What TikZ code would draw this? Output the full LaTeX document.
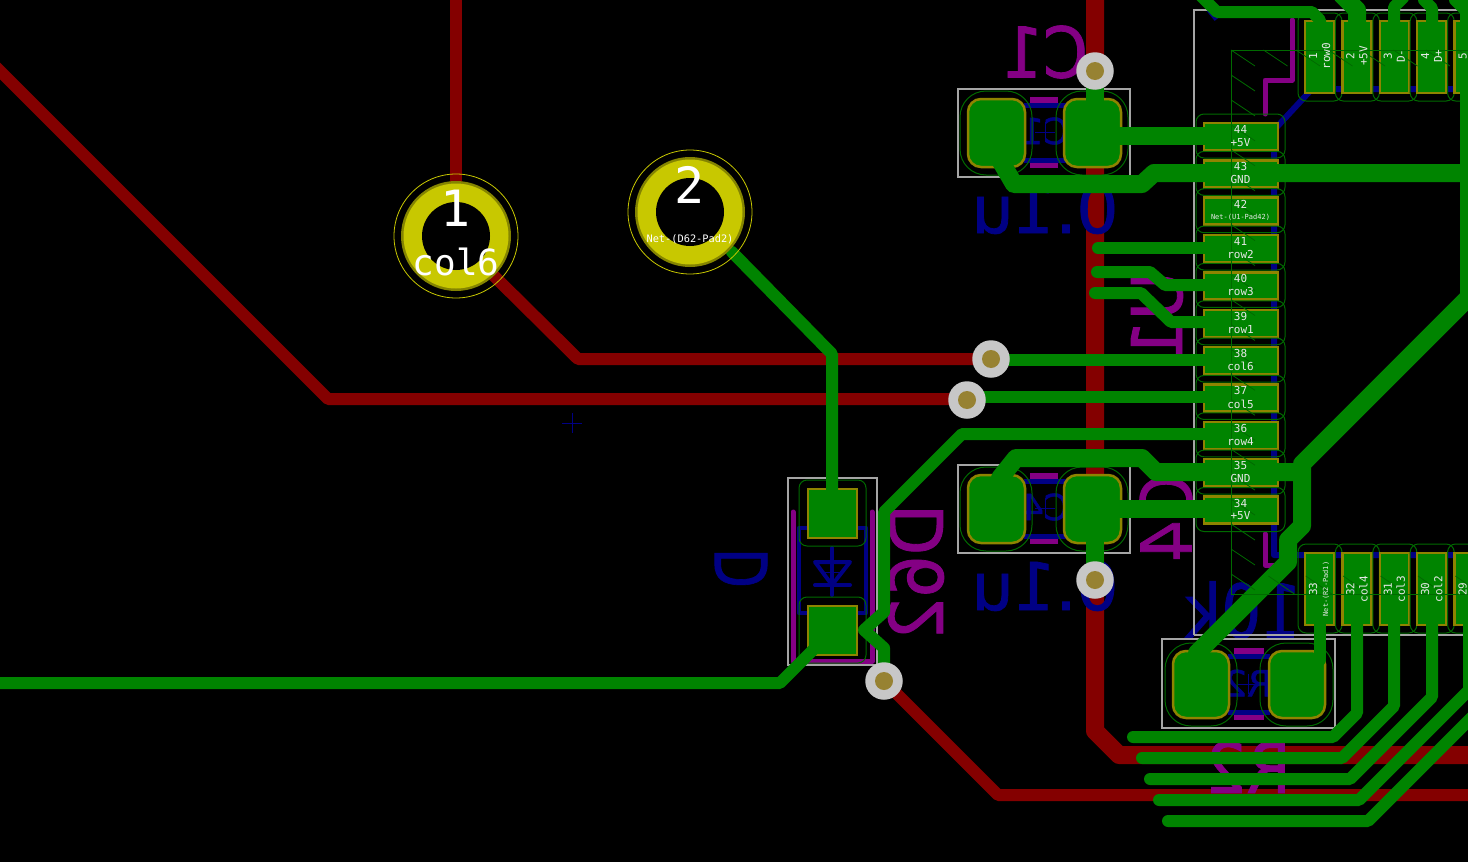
\documentclass[tikz,border=0pt]{standalone}
\usepackage{fontspec}
\newfontfamily\pcbfont{DejaVu Sans Mono}
\newfontfamily\silkfont[FakeBold=1.2]{DejaVu Sans}
\definecolor{cured}{HTML}{840000}
\definecolor{cugreen}{HTML}{008400}
\definecolor{silkpurple}{HTML}{840084}
\definecolor{fabnavy}{HTML}{000084}
\definecolor{padgold}{HTML}{8E8400}
\definecolor{padyellow}{HTML}{C8C800}
\definecolor{padolive}{HTML}{848400}
\definecolor{clearance}{HTML}{006A00}
\definecolor{courtyard}{HTML}{A5A5A5}
\definecolor{viahole}{HTML}{978232}
\definecolor{padtext}{HTML}{E8E8E8}
\tikzset{
	thintrack/.style = {cugreen, line width = 12pt, line cap = round, line join = round},
	widetrack/.style = {cugreen, line width = 18pt, line cap = round, line join = round},
	backtrack/.style = {cured, line width = 12pt, line join = round},
	silkline/.style = {silkpurple, line width = 5pt, line cap = round, line join = round},
	silkbar/.style = {silkpurple, line width = 5.5pt},
	fabline/.style = {fabnavy, line width = 5pt, line join = round},
	crtyd/.style = {courtyard, line width = 1.5pt},
	padedge/.style = {clearance, line width = 1pt},
	smdpad/.style = {fill = cugreen, draw = padgold, line width = 2.5pt},
	bigpad/.style = {smdpad, rounded corners = 13pt},
	bigedge/.style = {padedge, rounded corners = 26pt},
	via/.style = {circle, fill = #1, inner sep = 0pt},
	silktext/.style = {text = silkpurple, inner sep = 0pt, font = \silkfont\fontsize{#1}{#1}\selectfont},
	fabtext/.style = {text = fabnavy, inner sep = 0pt, font = \silkfont\fontsize{#1}{#1}\selectfont},
	padlabel/.style = {text = padtext, inner sep = 0pt, font = \pcbfont\fontsize{#1}{#1}\selectfont},
	holelabel/.style = {text = white, inner sep = 0pt, font = \pcbfont\fontsize{#1}{#1}\selectfont},
}
\begin{document}
\begin{tikzpicture}[x = 1pt, y = -1pt]
	\useasboundingbox (0, 0) rectangle (1468, 862);
	\clip (0, 0) rectangle (1468, 862);
	\fill[black] (0, 0) rectangle (1468, 862);

	\draw[backtrack] (456, -5)--(456, 200);
	\draw[backtrack] (490, 272)--(578, 359)--(991, 359);
	\draw[backtrack] (-10, 61)--(328, 399)--(967, 399);
	\draw[backtrack] (884, 681)--(998, 795)--(1475, 795);
	\draw[backtrack, line width = 18pt] (1095, -5)--(1095, 731)--(1119, 755)--(1475, 755);

	\draw[silkline] (1292, 20)--(1292, 80)--(1265, 80)--(1265, 114);
	\draw[silkline] (1265, 534)--(1265, 565)--(1282, 565);
	\draw[silkline] (793, 512)--(793, 661)--(872, 661)--(872, 512);
	\foreach \cy in {0, 376} {
		\draw[silkbar] (1030, {100 + \cy})--(1058, {100 + \cy});
		\draw[silkbar] (1030, {165 + \cy})--(1058, {165 + \cy});
		\draw[fabline] (1024, {105 + \cy})--(1066, {105 + \cy});
		\draw[fabline] (1024, {160 + \cy})--(1066, {160 + \cy});
	}
	\draw[silkbar] (1234, 651)--(1264, 651);
	\draw[silkbar] (1234, 717)--(1264, 717);
	\draw[fabline] (1228, 656)--(1270, 656);
	\draw[fabline] (1228, 712)--(1270, 712);

	\draw[fabline, line width = 6pt] (1475, 89)--(1312, 89)--(1274, 130)--(1274, 555)--(1475, 555);
	\draw[fabline, line width = 6pt] (1208, 8)--(1217, 19);
	\draw[fabline, line width = 4.5pt] (799, 528) rectangle (866, 613);
	\draw[fabnavy, line width = 4pt, line cap = round, line join = round] (815, 562)--(850, 562)--(832, 585)--cycle;
	\draw[fabnavy, line width = 4pt, line cap = round] (815, 585)--(850, 585);
	\draw[fabnavy, line width = 4pt, line cap = round] (832, 548)--(832, 595);

	\node[silktext = 70, xscale = -0.92] (refCone) at (1045, 52) {C1};
	\node[silktext = 70, cm = {0, -0.95, -1, 0, (0, 0)}] (refCfour) at (1166, 518) {C4};
	\node[silktext = 70, cm = {0, -0.95, -1, 0, (0, 0)}] (refUone) at (1157, 317) {U1};
	\node[silktext = 70, xscale = -0.92] (refRtwo) at (1248, 767) {R2};
	\node[silktext = 74, cm = {0, -0.9, -1, 0, (0, 0)}] (refDiode) at (916, 572) {D62};
	\node[fabtext = 66, xscale = -1] (valCone) at (1045, 209) {0.1u};
	\node[fabtext = 66, xscale = -1] (valCfour) at (1045, 586) {0.1u};
	\node[fabtext = 74, xscale = -0.85] (valRtwo) at (1243, 610) {10k};
	\node[fabtext = 72, cm = {0, -0.72, -1, 0, (0, 0)}] (valDiode) at (741, 568) {D};
	\node[fabtext = 36, xscale = -1] (fabCone) at (1045, 131) {C1};
	\node[fabtext = 36, xscale = -1] (fabCfour) at (1045, 507) {C4};
	\node[fabtext = 36, xscale = -1] (fabRtwo) at (1248, 683) {R2};
	\foreach \cx/\cy in {1045/132, 1045/508, 1248/684, 832/572, 572/423} {
		\draw[fabnavy, line width = 0.6pt] ({\cx - 10}, \cy)--({\cx + 10}, \cy);
		\draw[fabnavy, line width = 0.6pt] (\cx, {\cy - 10})--(\cx, {\cy + 10});
	}

	\draw[crtyd] (1194, 635)--(1194, 10)--(1475, 10);
	\draw[crtyd] (1194, 635)--(1475, 635);
	\draw[crtyd] (788, 478) rectangle (877, 665);
	\foreach \cy in {0, 376} {
		\draw[crtyd] (958, {89 + \cy}) rectangle (1130, {177 + \cy});
		\draw[bigpad] (968, {99 + \cy}) rectangle (1025, {167 + \cy});
		\draw[bigpad] (1064, {99 + \cy}) rectangle (1121, {167 + \cy});
		\draw[bigedge] (960, {91 + \cy}) rectangle (1032, {175 + \cy});
		\draw[bigedge] (1056, {91 + \cy}) rectangle (1128, {175 + \cy});
	}
	\draw[crtyd] (1162, 639) rectangle (1335, 728);
	\draw[bigpad] (1173, 651) rectangle (1229, 718);
	\draw[bigpad] (1269, 651) rectangle (1325, 718);
	\draw[bigedge] (1165, 643) rectangle (1237, 726);
	\draw[bigedge] (1260, 643) rectangle (1333, 726);

	\draw[smdpad] (808, 489) rectangle (857, 538);
	\draw[smdpad] (808, 606) rectangle (857, 655);
	\draw[padedge, rounded corners = 8pt] (799, 480) rectangle (866, 546);
	\draw[padedge, rounded corners = 8pt] (799, 597) rectangle (866, 663);

	\foreach \i in {0, ..., 10} {
		\draw[smdpad] (1204, {123 + 37.35 * \i}) rectangle ++(74, 27);
		\draw[padedge, rounded corners = 8pt] (1196, {114 + 37.35 * \i}) rectangle ++(89, 44);
	}
	\foreach \i in {0, ..., 4} {
		\draw[smdpad] ({1305 + 37.4 * \i}, 21) rectangle ++(29, 72);
		\draw[padedge, rounded corners = 8pt] ({1298 + 37.4 * \i}, 13) rectangle ++(44, 88);
		\draw[smdpad] ({1305 + 37.4 * \i}, 553) rectangle ++(29, 72);
		\draw[padedge, rounded corners = 8pt] ({1298 + 37.4 * \i}, 544) rectangle ++(44, 89);
	}

	\draw[thintrack] (732, 252)--(832, 354)--(832, 492);
	\draw[thintrack] (-5, 683)--(780, 683)--(826, 637);
	\draw[thintrack] (1207, 434)--(962, 434)--(884, 512)--(884, 612)--(864, 630)--(884, 648)--(884, 681);
	\draw[thintrack] (991, 360)--(1207, 360);
	\draw[thintrack] (967, 397)--(1207, 397);
	\draw[thintrack] (1098, 248)--(1207, 248);
	\draw[thintrack] (1097, 272)--(1150, 272)--(1165, 285)--(1207, 285);
	\draw[thintrack] (1095, 293)--(1141, 293)--(1171, 322)--(1207, 322);
	\draw[thintrack] (1320, 620)--(1320, 660);
	\draw[thintrack] (1357, 620)--(1357, 713)--(1333, 737)--(1133, 737);
	\draw[thintrack] (1394, 620)--(1394, 706)--(1342, 758)--(1142, 758);
	\draw[thintrack] (1432, 620)--(1432, 697)--(1350, 779)--(1150, 779);
	\draw[thintrack] (1469, 620)--(1469, 690)--(1359, 800)--(1159, 800);
	\draw[thintrack] (1480, 709)--(1368, 821)--(1168, 821);
	\draw[thintrack] (1200, -5)--(1217, 12)--(1312, 12)--(1320, 20)--(1320, 30);
	\draw[widetrack] (1342, -5)--(1357, 10)--(1357, 25);
	\draw[thintrack] (1394, 30)--(1394, 7)--(1403, -2);
	\draw[thintrack] (1432, 30)--(1432, 8)--(1424, 0);
	\draw[thintrack] (1455, 0)--(1472, 17);
	\draw[widetrack] (1095, 70)--(1095, 120);
	\draw[widetrack] (1095, 136)--(1207, 136);
	\draw[widetrack] (1000, 160)--(1014, 184)--(1142, 184)--(1154, 173)--(1475, 173);
	\draw[widetrack] (1469, -5)--(1469, 297)--(1302, 464)--(1302, 526)--(1288, 540)--(1288, 562)--(1197, 653);
	\draw[widetrack] (1000, 478)--(1016, 458)--(1142, 458)--(1156, 472)--(1302, 472);
	\draw[widetrack] (1092, 509)--(1207, 509);
	\draw[widetrack] (1095, 520)--(1095, 580);

	\draw[padedge, line width = 0.8pt] (1231, 594)--(1231, 50)--(1475, 50);
	\draw[padedge, line width = 0.8pt] (1231, 594)--(1475, 594);
	\foreach \i in {0, ..., 21} {
		\draw[padedge, line width = 0.8pt] (1231, {50 + 24.95 * \i})--++(24, 16);
	}
	\foreach \i in {1, ..., 7} {
		\draw[padedge, line width = 0.8pt] ({1231 + 32.5 * \i}, 50)--++(24, 16);
		\draw[padedge, line width = 0.8pt] ({1231 + 37.4 * \i}, 576)--++(26, 18);
	}

	\foreach \num/\net/\fs [count = \i from 0] in {44/+5V/11, 43/GND/11, 42/Net-(U1-Pad42)/7, 41/row2/11, 40/row3/11, 39/row1/11, 38/col6/11, 37/col5/11, 36/row4/11, 35/GND/11, 34/+5V/11} {
		\node[padlabel = 11] (leftnum\i) at (1240.5, {129.5 + 37.35 * \i}) {\num};
		\node[padlabel = \fs] (leftnet\i) at (1240.5, {142.5 + 37.35 * \i}) {\net};
	}
	\foreach \num/\net [count = \i from 0] in {1/row0, 2/+5V, 3/D-, 4/D+, 5/{}} {
		\node[padlabel = 11, rotate = 90] (topnum\i) at ({1313 + 37.4 * \i}, 56) {\num};
		\node[padlabel = 11, rotate = 90] (topnet\i) at ({1326 + 37.4 * \i}, 56) {\net};
	}
	\foreach \num/\net/\fs [count = \i from 0] in {33/Net-(R2-Pad1)/7, 32/col4/11, 31/col3/11, 30/col2/11, 29/{}/11} {
		\node[padlabel = 11, rotate = 90] (botnum\i) at ({1313 + 37.4 * \i}, 589) {\num};
		\node[padlabel = \fs, rotate = 90] (botnet\i) at ({1326 + 37.4 * \i}, 589) {\net};
	}

	\foreach \cx/\cy in {456/236, 690/212} {
		\draw[padyellow, line width = 0.8pt] (\cx, \cy) circle (62);
		\fill[padolive] (\cx, \cy) circle (55);
		\fill[padyellow] (\cx, \cy) circle (52.5);
		\fill[black] (\cx, \cy) circle (34);
	}
	\node[holelabel = 50] (holeone) at (456, 208) {1};
	\node[holelabel = 36] (colsix) at (456, 262) {col6};
	\node[holelabel = 50] (holetwo) at (690, 185) {2};
	\node[holelabel = 10.3] (nettwo) at (690, 239) {Net-(D62-Pad2)};

	\foreach \cx/\cy/\nm in {1095/71/a, 991/359/b, 967/400/c, 884/681/d, 1095/580/e} {
		\node[via = {white!78!black}, minimum size = 37.5pt] (via\nm) at (\cx, \cy) {};
		\node[via = viahole, minimum size = 18pt] (hole\nm) at (\cx, \cy) {};
	}
\end{tikzpicture}
\end{document}
